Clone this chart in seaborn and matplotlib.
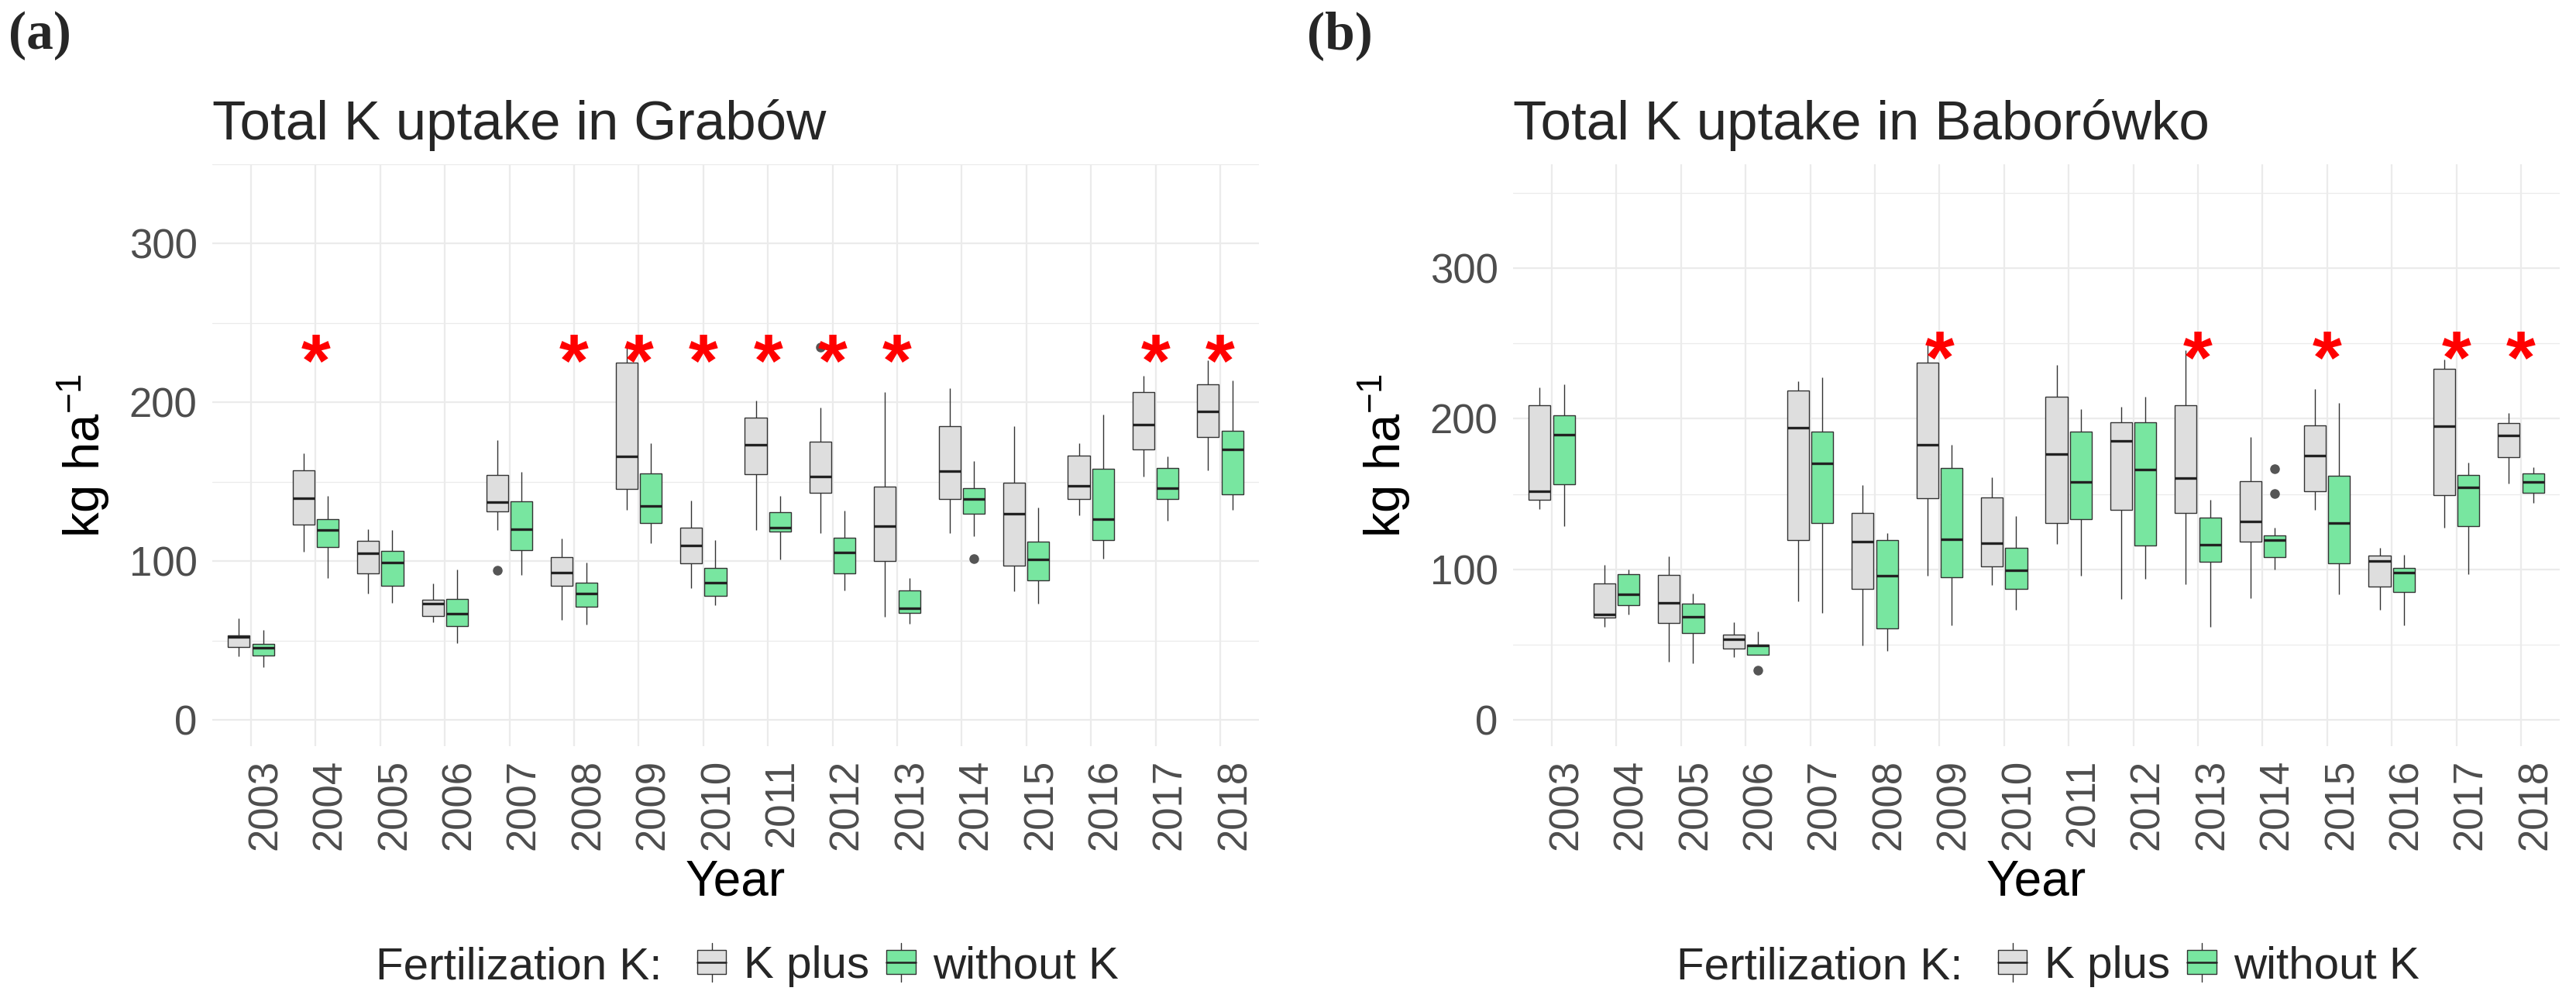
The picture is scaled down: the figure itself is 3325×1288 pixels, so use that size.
import numpy as np
import pandas as pd
import matplotlib
matplotlib.use("Agg")
import matplotlib.pyplot as plt
import seaborn as sns
from matplotlib.patches import Patch, Rectangle
from matplotlib.lines import Line2D
from matplotlib.transforms import ScaledTranslation

# ---------------- data (box statistics) ----------------
years = [str(y) for y in range(2003, 2019)]
groups = ["K plus", "without K"]

# Grabów, K plus
grb_kp_lo  = [40.3, 106.0, 79.5, 61.6, 119.8, 62.9, 132.3, 83.0, 119.8, 117.7, 65.1, 117.7, 81.0, 128.9, 153.2, 157.3]
grb_kp_q1  = [46.1, 123.3, 92.2, 65.5, 131.3, 84.7, 145.5, 98.7, 155.0, 142.9, 100.0, 139.4, 97.2, 139.4, 170.7, 178.4]
grb_kp_med = [52.2, 139.9, 105.2, 73.5, 137.1, 92.7, 166.0, 109.9, 173.3, 153.2, 122.4, 156.9, 130.1, 147.4, 186.0, 194.6]
grb_kp_q3  = [53.4, 157.3, 112.9, 75.6, 154.5, 102.6, 225.2, 121.1, 190.7, 175.4, 147.0, 184.9, 149.6, 166.6, 206.5, 211.6]
grb_kp_hi  = [64.0, 167.9, 120.3, 86.0, 176.3, 114.4, 235.8, 138.1, 201.3, 197.0, 206.7, 209.0, 184.9, 174.6, 216.6, 226.5]
grb_kp_out = {"2007": [94.5], "2012": [234.9]}

# Grabów, without K
grb_wk_lo  = [33.2, 89.4, 74.1, 48.5, 91.4, 60.3, 111.4, 72.6, 101.0, 81.7, 60.8, 115.7, 73.3, 101.7, 125.6, 132.5]
grb_wk_q1  = [40.7, 108.8, 84.5, 59.0, 106.9, 71.6, 124.1, 78.4, 118.8, 92.2, 67.5, 130.2, 88.1, 113.4, 139.4, 142.0]
grb_wk_med = [45.5, 119.6, 99.1, 67.2, 120.3, 79.5, 134.9, 86.6, 121.1, 105.8, 70.5, 139.0, 101.1, 126.7, 146.3, 170.3]
grb_wk_q3  = [47.8, 126.5, 106.7, 76.3, 137.9, 86.4, 155.2, 95.7, 131.0, 114.9, 81.7, 146.3, 112.3, 158.2, 158.6, 182.3]
grb_wk_hi  = [56.9, 141.4, 119.8, 94.6, 156.3, 99.4, 174.4, 113.6, 141.4, 131.9, 89.7, 163.1, 134.1, 192.2, 166.2, 213.8]
grb_wk_out = {"2014": [101.7]}

# Baborówko, K plus
bab_kp_lo  = [140.2, 61.5, 38.8, 41.5, 78.7, 49.3, 95.7, 89.7, 117.0, 80.3, 90.2, 81.0, 139.5, 73.0, 127.4, 156.8]
bab_kp_q1  = [146.2, 67.7, 64.3, 47.1, 119.6, 87.0, 147.1, 101.9, 130.8, 139.5, 137.5, 118.2, 151.7, 88.4, 149.4, 174.4]
bab_kp_med = [151.9, 70.2, 77.8, 53.7, 194.2, 118.4, 182.9, 117.5, 176.3, 185.4, 160.7, 132.0, 175.6, 105.3, 194.9, 188.9]
bab_kp_q3  = [208.9, 90.4, 96.2, 56.5, 218.7, 137.3, 237.1, 147.6, 214.8, 197.8, 209.1, 158.6, 195.5, 109.0, 233.2, 197.2]
bab_kp_hi  = [221.0, 103.0, 108.8, 64.7, 224.7, 156.1, 251.3, 161.1, 235.5, 207.7, 245.6, 187.7, 219.6, 114.3, 239.4, 204.0]
bab_kp_out = {}

# Baborówko, without K
bab_wk_lo  = [128.5, 69.8, 37.4, 43.0, 71.1, 45.9, 62.7, 73.0, 95.7, 93.6, 61.5, 99.6, 83.3, 62.7, 96.6, 143.9]
bab_wk_q1  = [156.5, 76.0, 57.4, 43.4, 130.8, 60.8, 94.6, 87.2, 133.1, 115.9, 104.9, 108.0, 104.2, 84.9, 128.8, 150.8]
bab_wk_med = [189.6, 83.5, 68.6, 49.3, 170.3, 95.7, 120.0, 99.4, 158.1, 166.2, 116.4, 119.6, 130.8, 98.0, 154.2, 158.1]
bab_wk_q3  = [202.0, 96.6, 77.3, 49.8, 191.2, 119.6, 167.3, 114.1, 191.2, 197.8, 134.3, 122.3, 162.3, 100.8, 162.5, 163.9]
bab_wk_hi  = [222.6, 99.6, 83.8, 58.8, 227.7, 124.2, 182.5, 135.4, 206.6, 214.4, 146.4, 127.8, 210.7, 109.7, 171.0, 168.0]
bab_wk_out = {"2006": [33.0], "2014": [150.1, 166.6]}

stars_grabow = ["2004", "2008", "2009", "2010", "2011", "2012", "2013", "2017", "2018"]
stars_baborowko = ["2009", "2013", "2015", "2017", "2018"]
star_y_grabow = 238
star_y_baborowko = 253

titles = ["Total K uptake in Grabów", "Total K uptake in Baborówko"]
panel_tags = ["(a)", "(b)"]


# ---------------- build sample table reproducing the box statistics ----------------
def box_sample(lo, q1, med, q3, hi, out):
    low_out = sorted(v for v in out if v < q1)
    high_out = sorted(v for v in out if v > q3)
    low = low_out + [lo] * (3 - len(low_out))
    high = [hi] * (3 - len(high_out)) + high_out
    return low + [q1] + [med] * 5 + [q3] + high


def build_table(stats_by_group):
    rows = []
    for grp, (lo, q1, med, q3, hi, outs) in stats_by_group.items():
        for i, yr in enumerate(years):
            for v in box_sample(lo[i], q1[i], med[i], q3[i], hi[i], outs.get(yr, [])):
                rows.append({"Year": yr, "Fertilization K": grp, "value": v})
    return pd.DataFrame(rows)


df_grabow = build_table({
    "K plus": (grb_kp_lo, grb_kp_q1, grb_kp_med, grb_kp_q3, grb_kp_hi, grb_kp_out),
    "without K": (grb_wk_lo, grb_wk_q1, grb_wk_med, grb_wk_q3, grb_wk_hi, grb_wk_out),
})
df_baborowko = build_table({
    "K plus": (bab_kp_lo, bab_kp_q1, bab_kp_med, bab_kp_q3, bab_kp_hi, bab_kp_out),
    "without K": (bab_wk_lo, bab_wk_q1, bab_wk_med, bab_wk_q3, bab_wk_hi, bab_wk_out),
})

# ---------------- style ----------------
sns.set_style("whitegrid")
plt.rcParams["font.family"] = ["Liberation Sans", "DejaVu Sans"]
plt.rcParams["mathtext.fontset"] = "custom"
plt.rcParams["mathtext.rm"] = "Liberation Sans"
plt.rcParams["mathtext.it"] = "Liberation Sans:italic"
plt.rcParams["mathtext.bf"] = "Liberation Sans:bold"

palette = {"K plus": "#DEDEDE", "without K": "#78E6A0"}
edge = "#333333"
grid_col = "#EBEBEB"
tick_col = "#4D4D4D"


class BoxKeyHandler:
    """Legend key drawn like a small boxplot glyph (box, whisker, median)."""
    def legend_artist(self, legend, orig_handle, fontsize, handlebox):
        x0, y0 = -handlebox.xdescent, -handlebox.ydescent
        w, h = handlebox.width, handlebox.height
        tr = handlebox.get_transform()
        whisk = Line2D([x0 + w / 2, x0 + w / 2], [y0 - 0.32 * h, y0 + 1.32 * h],
                       color=edge, lw=1.0, transform=tr)
        rect = Rectangle((x0, y0), w, h, facecolor=orig_handle.get_facecolor(),
                         edgecolor=edge, lw=1.0, transform=tr)
        med = Line2D([x0, x0 + w], [y0 + h / 2, y0 + h / 2], color="#222222",
                     lw=1.8, transform=tr)
        handlebox.add_artist(whisk)
        handlebox.add_artist(rect)
        handlebox.add_artist(med)
        return rect


W, H = 3325, 1288
fig = plt.figure(figsize=(W / 100, H / 100), dpi=100)

ax_w = 1351 / W
ax_h = 751 / H
ax_b = 1 - 963 / H
lefts_px = [274, 1953]
ylims = [(-16.4, 346.4), (-17.5, 369.0)]
star_sets = [stars_grabow, stars_baborowko]
star_ys = [star_y_grabow, star_y_baborowko]
dfs = [df_grabow, df_baborowko]

for k in range(2):
    ax = fig.add_axes([lefts_px[k] / W, ax_b, ax_w, ax_h])
    sns.boxplot(
        data=dfs[k], x="Year", y="value", hue="Fertilization K",
        order=years, hue_order=groups, palette=palette, saturation=1,
        width=0.75, gap=0.1, linewidth=1.0, linecolor=edge,
        whis=1.5, showcaps=False, legend=False, ax=ax,
        flierprops=dict(marker="o", markerfacecolor="#555555",
                        markeredgecolor="#555555", markersize=8),
        medianprops=dict(linewidth=2.4, color="#222222"),
    )
    ax.set_xlim(-0.6, 15.6)
    ax.set_ylim(*ylims[k])
    ax.set_yticks([0, 100, 200, 300])
    ax.set_yticks([50, 150, 250, 350], minor=True)
    ax.grid(True, which="major", color=grid_col, linewidth=1.6)
    ax.grid(True, which="minor", axis="y", color=grid_col, linewidth=0.9)
    ax.set_axisbelow(True)
    for s in ax.spines.values():
        s.set_visible(False)
    ax.tick_params(axis="both", which="both", length=0, labelsize=38, labelcolor=tick_col)
    ax.tick_params(axis="y", pad=14)
    ax.tick_params(axis="x", pad=12)
    for lab in ax.get_xticklabels():
        lab.set_rotation(90)
        lab.set_ha("center")
        lab.set_va("top")
        lab.set_transform(lab.get_transform() + ScaledTranslation(13.5 / 72, 0, fig.dpi_scale_trans))

    ax.set_xlabel("Year", fontsize=46, color="black")
    ax.xaxis.set_label_coords(0.5, -(1155 - 963) / 751)
    ax.xaxis.label.set_va("baseline")
    ax.set_ylabel("kg ha$^{-1}$", fontsize=47, color="black")
    ax.yaxis.set_label_coords(-0.107, 0.5)
    ax.yaxis.label.set_va("baseline")

    fs_star = 70
    for yr in star_sets[k]:
        ax.annotate("*", xy=(years.index(yr), star_ys[k]), xytext=(0, -0.58 * fs_star),
                    textcoords="offset points", ha="center", va="baseline",
                    fontsize=fs_star, fontweight="bold", color="red", zorder=10)

    left = lefts_px[k]
    fig.text(left / W, 1 - 180 / H, titles[k], fontsize=51, ha="left", va="baseline")
    tag_x = [11, 1687][k]
    fig.text(tag_x / W, 1 - 63 / H, panel_tags[k], fontsize=50, fontweight="bold",
             family=["Liberation Serif", "DejaVu Serif"], ha="left", va="baseline")

    # legend
    off = left - 274
    fig.text((485 + off) / W, 1 - 1263 / H, "Fertilization K:", fontsize=42,
             ha="left", va="baseline")
    handles = [Patch(facecolor=palette[g], edgecolor=edge) for g in groups]
    fig.legend(handles, groups, loc="center left",
               bbox_to_anchor=((900 + off) / W, 1 - 1247.5 / H),
               ncol=2, frameon=False, fontsize=42, borderpad=0, borderaxespad=0,
               handlelength=0.64, handleheight=0.43, handletextpad=0.39,
               columnspacing=0.38,
               handler_map={Patch: BoxKeyHandler()})

fig.savefig("out.png", dpi=100)
